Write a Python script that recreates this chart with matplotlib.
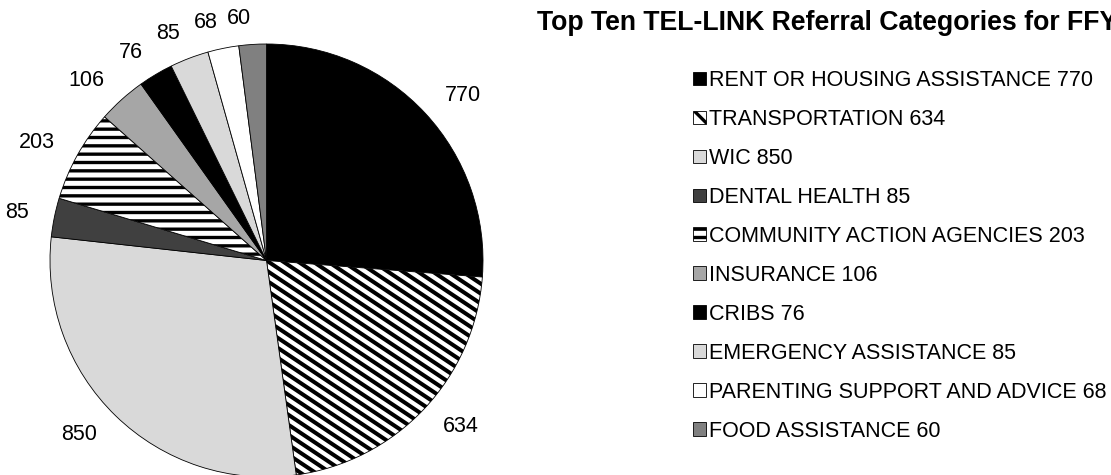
import numpy as np
import matplotlib.pyplot as plt
from matplotlib.patches import Patch
from matplotlib.collections import LineCollection

plt.rcParams['font.family'] = ['Liberation Sans', 'DejaVu Sans']
plt.rcParams['hatch.linewidth'] = 2.4

categories = ['RENT OR HOUSING ASSISTANCE', 'TRANSPORTATION', 'WIC', 'DENTAL HEALTH',
              'COMMUNITY ACTION AGENCIES', 'INSURANCE', 'CRIBS', 'EMERGENCY ASSISTANCE',
              'PARENTING SUPPORT AND ADVICE', 'FOOD ASSISTANCE']
referrals = [770, 634, 850, 85, 203, 106, 76, 85, 68, 60]

fills = ['#000000', '#ffffff', '#d9d9d9', '#404040', '#ffffff',
         '#a6a6a6', '#000000', '#d9d9d9', '#ffffff', '#808080']
hatches = [None, '\\\\', None, None, '--', None, None, None, None, None]

fig = plt.figure(figsize=(11.11, 4.75), dpi=100)
W, H = 1111, 475
cx, cy, r = 266.5, 260.5, 216.5
ax = fig.add_axes([(cx - r) / W, (H - cy - r) / H, 2 * r / W, 2 * r / H])

wedges, texts = ax.pie(referrals, labels=[str(v) for v in referrals],
                       colors=fills, startangle=90, counterclock=False,
                       labeldistance=1.12,
                       wedgeprops=dict(edgecolor='black', linewidth=0.6),
                       textprops=dict(fontsize=15.5, color='black'))

# wide downward-diagonal stripes for the transportation slice
ang = np.deg2rad(33.7)
d = np.array([np.cos(ang), -np.sin(ang)])
n = np.array([np.sin(ang), np.cos(ang)])
step = 8.3 / r
segs = [[k * step * n - 1.5 * d, k * step * n + 1.5 * d] for k in range(-40, 41)]
stripes = LineCollection(segs, colors='black', linewidths=2.9, zorder=wedges[1].get_zorder() + 0.1)
ax.add_collection(stripes)
stripes.set_clip_path(wedges[1])

wedges[4].set_hatch(hatches[4])

ax.set_xlim(-1, 1)
ax.set_ylim(-1, 1)
ax.set_aspect('equal')
ax.axis('off')

fig.text(537 / W, 1 - 29.5 / H, 'Top Ten TEL-LINK Referral Categories for FFY',
         fontsize=19.2, fontweight='bold', ha='left', va='baseline')

handles = [Patch(facecolor=f, edgecolor='black', linewidth=0.6, hatch=h)
           for f, h in zip(fills, hatches)]
labels = [f'{c} {v}' for c, v in zip(categories, referrals)]
fig.legend(handles, labels, loc='upper left', bbox_to_anchor=(693 / W, 1 - 70 / H),
           frameon=False, fontsize=15.5, handlelength=0.6, handleheight=0.6,
           handletextpad=0.14, labelspacing=0.835, borderpad=0, borderaxespad=0)

fig.savefig('out.png', dpi=100)
